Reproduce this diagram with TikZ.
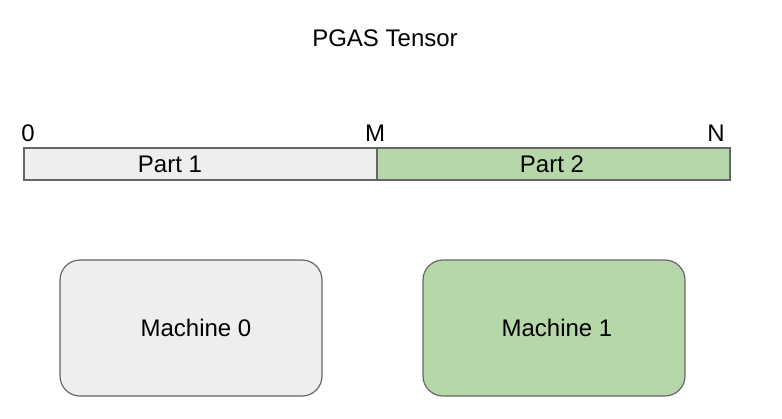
\documentclass[tikz,border=0pt]{standalone}
\usepackage{fontspec}
\setmainfont{Liberation Sans}
\definecolor{lightgrey}{HTML}{EEEEEE}
\definecolor{lightgreen}{HTML}{B6D7A8}
\definecolor{edgegrey}{HTML}{666666}
\begin{document}
\begin{tikzpicture}[x=0.75pt,y=-0.75pt,
  every node/.style={font=\fontsize{18}{22}\selectfont, text=black},
  barpart/.style={draw=edgegrey, line width=0.9pt},
  machine/.style={draw=edgegrey, line width=0.9pt, rounded corners=15pt},
  lbl/.style={inner sep=0pt}]
\useasboundingbox[fill=white] (0,0) rectangle (782,418);
\node[lbl] (title) at (385,38) {PGAS Tensor};
% bar
\draw[barpart, fill=lightgrey] (24,148) rectangle (377,180);
\draw[barpart, fill=lightgreen] (377,148) rectangle (730,180);
\node[lbl] (p1) at (170,164) {Part 1};
\node[lbl] (p2) at (552,164) {Part 2};
\node[lbl] (zero) at (28,133) {0};
\node[lbl] (m) at (375,133) {M};
\node[lbl] (n) at (716,133) {N};
% machines
\draw[machine, fill=lightgrey] (60,260) rectangle (322,396);
\node[lbl] (m0) at (196,328) {Machine 0};
\draw[machine, fill=lightgreen] (423,260) rectangle (685,396);
\node[lbl] (m1) at (557,328) {Machine 1};
\end{tikzpicture}
\end{document}
